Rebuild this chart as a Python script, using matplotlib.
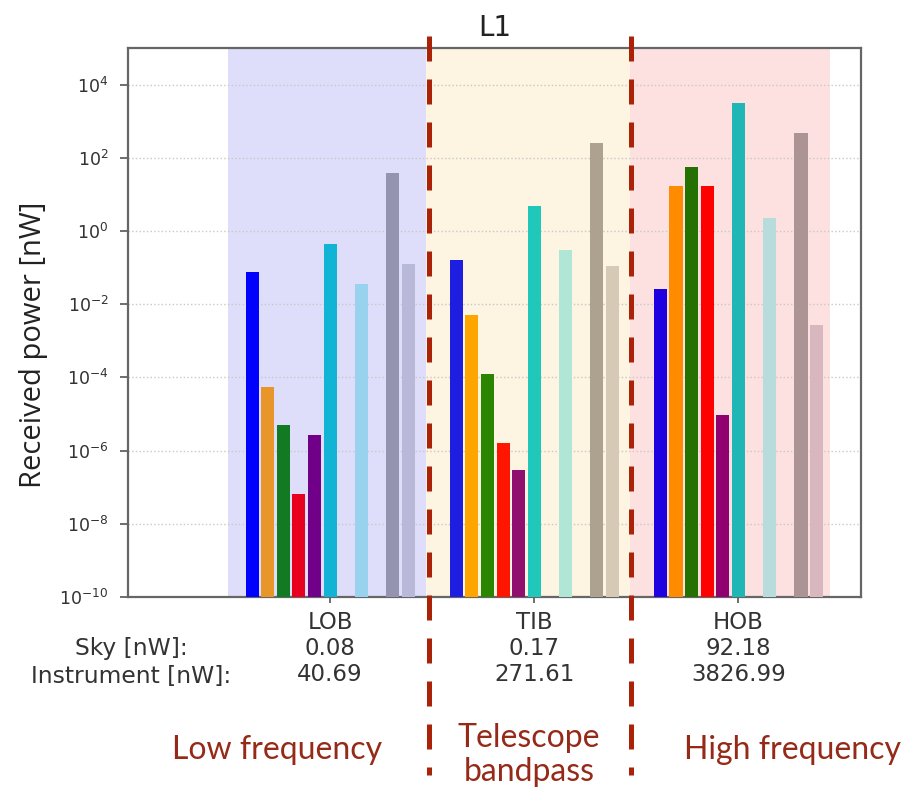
import matplotlib
matplotlib.use("Agg")
import matplotlib.pyplot as plt
import numpy as np

# ---------------- data ----------------
bands = ["LOB", "TIB", "HOB"]
sky_totals = ["0.08", "0.17", "92.18"]
instrument_totals = ["40.69", "271.61", "3826.99"]

# nine components per band (nW)
lob_values = [0.078, 5.6e-5, 4.9e-6, 6.6e-8, 2.6e-6, 0.45, 0.036, 39.0, 0.125]
tib_values = [0.164, 5.0e-3, 1.23e-4, 1.6e-6, 3.0e-7, 4.8, 0.30, 257.0, 0.11]
hob_values = [0.026, 16.5, 56.0, 16.5, 9.3e-6, 3240.0, 2.3, 480.0, 2.7e-3]

# ---------------- style ----------------
slots = [0, 1, 2, 3, 4, 5, 7, 9, 10]
slot_pitch = 0.0765
bar_width = 0.064
lob_colors = ['#0000ff', '#e8962a', '#127a22', '#e8001e', '#700088',
              '#12b4d6', '#99d2ee', '#9494b0', '#b8b8d8']
tib_colors = ['#1e1ee0', '#ffa500', '#2a8500', '#ff1500', '#901070',
              '#20c8bc', '#b0e6d6', '#ada290', '#d6cab6']
hob_colors = ['#1e00e0', '#ff8c00', '#247000', '#ff0000', '#900070',
              '#20b6b6', '#b8dcdc', '#ad9494', '#d8b8be']
span_edges = [-0.5, 0.47, 1.47, 2.45]
span_colors = ['#dedefa', '#fdf4e1', '#fde1e1']
dark_red_line = '#aa2208'
dark_red_text = '#962a18'

fig = plt.figure(figsize=(9.05, 7.89), dpi=100)
ax = fig.add_axes([128/905, 1-597/789, (861-128)/905, (597-48)/789])

for i in range(3):
    ax.axvspan(span_edges[i], span_edges[i+1], color=span_colors[i], lw=0, zorder=0)

all_values = [lob_values, tib_values, hob_values]
all_colors = [lob_colors, tib_colors, hob_colors]
for i, (vals, cols) in enumerate(zip(all_values, all_colors)):
    xs = [i + (s - 5) * slot_pitch for s in slots]
    ax.bar(xs, vals, width=bar_width, color=cols, zorder=3)

ax.set_yscale('log')
ax.set_ylim(1e-10, 1e5)
ax.set_xlim(-0.99, 2.6)
ax.set_yticks([10.0**k for k in range(-10, 5, 2)])
ax.minorticks_off()
ax.yaxis.grid(True, color='#c8c8c8', linestyle=':', linewidth=1.0, zorder=1)
ax.set_axisbelow(True)
ax.tick_params(axis='y', labelsize=12.5, colors='#555555', length=6, width=1.2,
               pad=8, labelcolor='#333333')
ax.tick_params(axis='x', labelsize=16.5, length=4, width=1.2, pad=6,
               colors='#555555', labelcolor='#333333')
ax.set_xticks(range(3))
ax.set_xticklabels([f"{b}\n{s}\n{t}" for b, s, t in zip(bands, sky_totals, instrument_totals)],
                   linespacing=1.18)
for sp in ax.spines.values():
    sp.set_color('#666666')
    sp.set_linewidth(1.6)

ax.set_title("L1", fontsize=20, pad=9, color='#222222')
fig.text(33/905, 1-345/789, "Received power [nW]", rotation=90, ha='center', va='center',
         fontsize=21, family='Open Sans', color='#222222')

fig.text(131/905, 1-649/789, "Sky [nW]:", ha='center', va='center', fontsize=16.8, color='#333333')
fig.text(131/905, 1-676/789, "Instrument [nW]:", ha='center', va='center', fontsize=16.8, color='#333333')

# dashed separators
for xpx in [429, 631]:
    fig.add_artist(plt.Line2D([xpx/905, xpx/905], [1-36/789, 1-775/789], transform=fig.transFigure,
                              color=dark_red_line, linewidth=3.6, linestyle=(0, (5, 3.6)), zorder=10))

fig.text(277/905, 1-750/789, "Low frequency", ha='center', va='center', fontsize=23,
         family='Lato', color=dark_red_text)
fig.text(529/905, 1-755/789, "Telescope\nbandpass", ha='center', va='center', fontsize=23,
         family='Lato', color=dark_red_text, linespacing=1.15)
fig.text(792/905, 1-750/789, "High frequency", ha='center', va='center', fontsize=23,
         family='Lato', color=dark_red_text)

fig.savefig("out.png", dpi=100)
